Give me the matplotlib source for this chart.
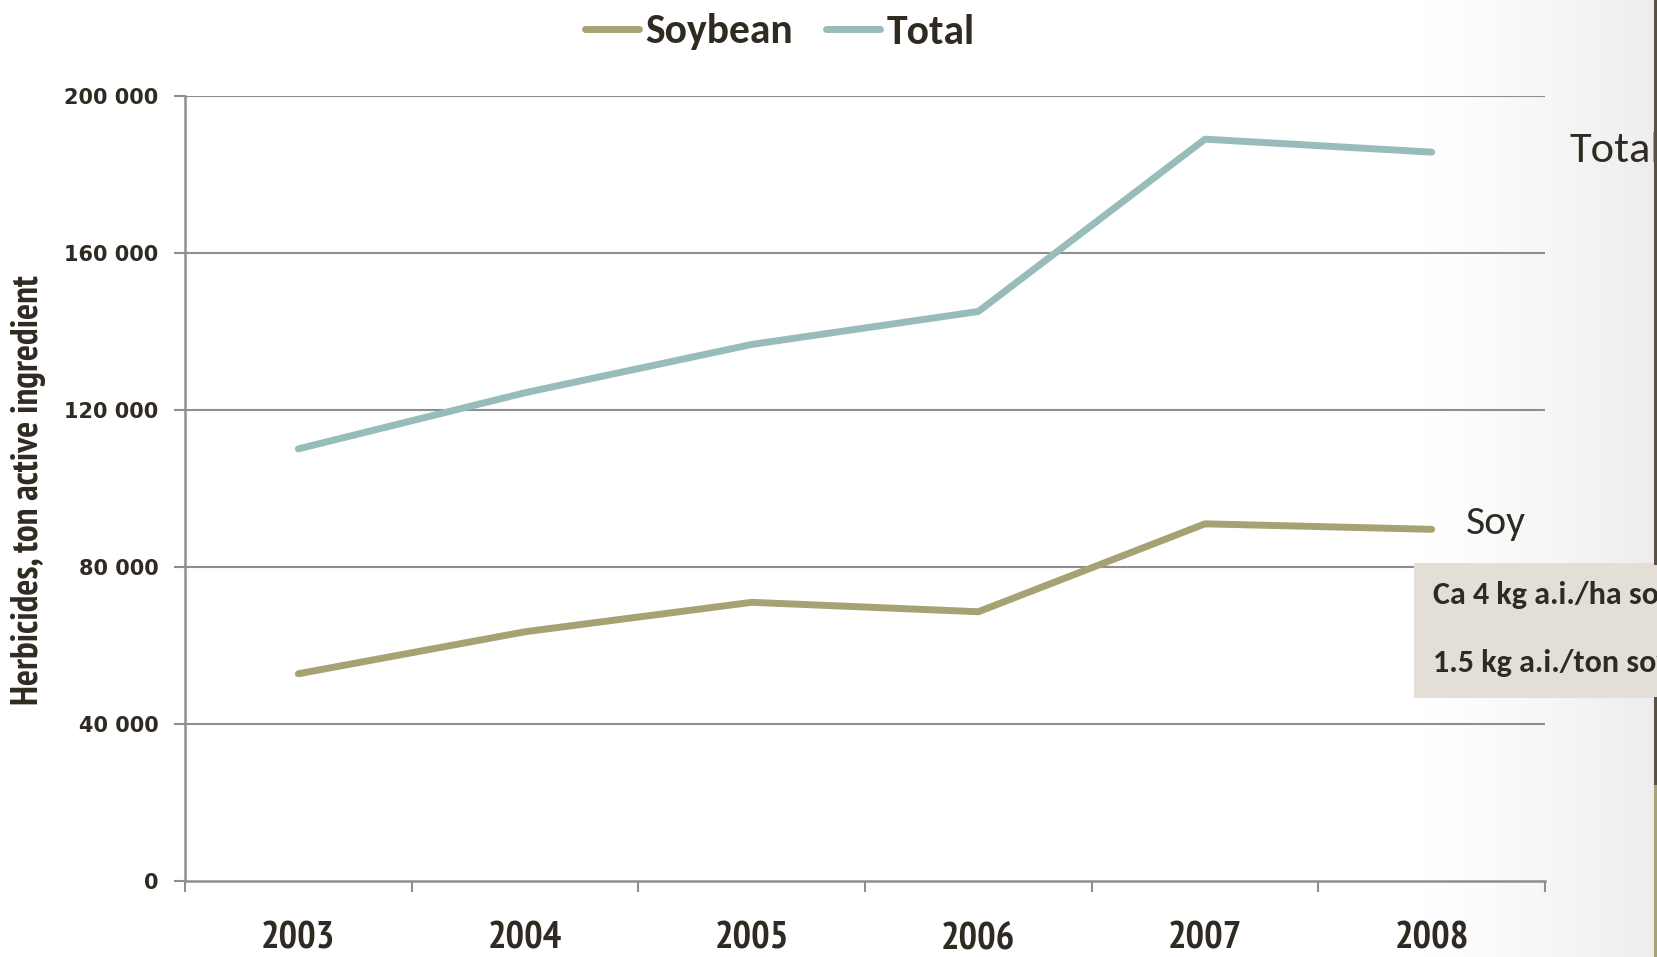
import numpy as np
import matplotlib.pyplot as plt
from matplotlib.lines import Line2D

years = ['2003', '2004', '2005', '2006', '2007', '2008']
soybean = [52800, 63500, 71000, 68600, 91000, 89600]
total = [110100, 124400, 136700, 145100, 189000, 185700]
y_ticks = [0, 40000, 80000, 120000, 160000, 200000]
y_labels = ['0', '40 000', '80 000', '120 000', '160 000', '200 000']
note_lines = ['Ca 4 kg a.i./ha soybean', '1.5 kg a.i./ton soybean']

soy_color = '#a7a274'
total_color = '#98bcba'
grid_color = '#8e8e8e'
text_color = '#302b22'
narrow = 'PT Sans Narrow'
body = 'Carlito'

fig = plt.figure(figsize=(16.57, 9.57), dpi=100)

# soft shadow towards the right edge of the slide
bg = fig.add_axes([0, 0, 1, 1], zorder=-10)
bg.set_axis_off()
grad = np.linspace(0, 1, 400)
grad = np.clip((grad - 0.86) / 0.14, 0, 1) ** 1.2
shade = 1 - 0.07 * grad
img = np.dstack([shade, shade, shade])[0][None, :, :].repeat(2, axis=0)
bg.imshow(img, aspect='auto', extent=[0, 1, 0, 1])
bg.set_xlim(0, 1)
bg.set_ylim(0, 1)

ax = fig.add_axes([185 / 1657, 1 - 881 / 957, 1360 / 1657, 785 / 957])
ax.patch.set_alpha(0)

x = np.arange(len(years))
ax.plot(x, soybean, color=soy_color, lw=5, solid_capstyle='round', zorder=3, clip_on=False)
ax.plot(x, total, color=total_color, lw=5, solid_capstyle='round', zorder=3, clip_on=False)

ax.set_xlim(-0.5, len(years) - 0.5)
ax.set_ylim(0, 200000)

ax.set_yticks(y_ticks)
ax.set_yticklabels(y_labels, fontfamily='DejaVu Sans', fontweight='bold', fontsize=15, color=text_color)
ax.tick_params(axis='y', length=8, width=1.5, color=grid_color, pad=11)

ax.set_xticks(np.arange(-0.5, len(years), 1.0))
ax.set_xticklabels([])
ax.set_xticks(x, minor=True)
ax.set_xticklabels(years, minor=True, fontfamily=narrow, fontweight='bold',
                   fontsize=28, color=text_color)
ax.tick_params(axis='x', which='major', length=8, width=1.5, color=grid_color, direction='out')
ax.tick_params(axis='x', which='minor', length=0, pad=29)

for v in y_ticks[1:]:
    ax.axhline(v, color=grid_color, lw=1.5, zorder=1)

for side in ['top', 'right']:
    ax.spines[side].set_visible(False)
for side in ['left', 'bottom']:
    ax.spines[side].set_color(grid_color)
    ax.spines[side].set_linewidth(1.8)

fig.text(29 / 1657, 1 - 490 / 957, 'Herbicides, ton active ingredient', rotation=90,
         fontfamily=narrow, fontweight='bold', fontsize=27, color=text_color,
         ha='center', va='center')

handles = [Line2D([], [], color=soy_color, lw=5, solid_capstyle='round'),
           Line2D([], [], color=total_color, lw=5, solid_capstyle='round')]
fig.legend(handles, ['Soybean', 'Total'], loc='center', bbox_to_anchor=(0.4705, 1 - 32 / 957),
           ncol=2, frameon=False, handlelength=1.3, handletextpad=0.15, columnspacing=0.8,
           prop={'family': body, 'weight': 'bold', 'size': 30}, labelcolor=text_color)

# labels at the end of the lines
fig.text(1569 / 1657, 1 - 151 / 957, 'Total', fontfamily=body, fontsize=32,
         color=text_color, va='center', ha='left')
fig.text(1466 / 1657, 1 - 523 / 957, 'Soy', fontfamily=body, fontsize=30,
         color=text_color, va='center', ha='left')

# note box
box = plt.Rectangle((1414 / 1657, 1 - 698 / 957), 0.2, 135 / 957, transform=fig.transFigure,
                    facecolor='#e3dfd7', edgecolor='none', zorder=5)
fig.patches.append(box)
fig.text(1433 / 1657, 1 - 595 / 957, note_lines[0], fontfamily=body, fontweight='bold',
         fontsize=23, color=text_color, va='center', ha='left', zorder=6)
fig.text(1433 / 1657, 1 - 663 / 957, note_lines[1], fontfamily=body, fontweight='bold',
         fontsize=23, color=text_color, va='center', ha='left', zorder=6)

# slide edge
edge_x = [1655 / 1657, 1655 / 1657]
fig.add_artist(Line2D(edge_x, [1 - 563 / 957, 1], transform=fig.transFigure,
                      color='#5a5142', lw=2.2, zorder=7))
fig.add_artist(Line2D(edge_x, [1 - 786 / 957, 1 - 698 / 957], transform=fig.transFigure,
                      color='#5a5142', lw=2.2, zorder=7))
fig.add_artist(Line2D(edge_x, [0, 1 - 786 / 957], transform=fig.transFigure,
                      color='#a8a070', lw=2.2, zorder=7))

fig.savefig('out.png', dpi=100)
